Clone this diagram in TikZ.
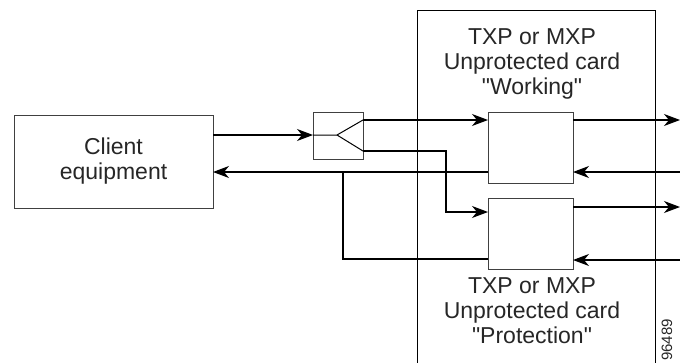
\documentclass[tikz,border=0pt]{standalone}
\usepackage{fontspec}
\setmainfont{Liberation Sans}[Ligatures=TeXOff]
\usetikzlibrary{arrows.meta}
\begin{document}
\begin{tikzpicture}[x=1pt,y=-1pt,
  wire/.style={line width=1.2pt,draw=black},
  arr/.style={wire,-{Stealth[length=16pt,width=12pt,inset=5pt]}},
  boxnode/.style={draw=black!75,line width=1pt,inner sep=0pt,anchor=center},
  lbl/.style={align=center,font=\fontsize{23}{25}\selectfont,text=black!85,inner sep=0pt}]
\useasboundingbox (0,0) rectangle (680,362);
% frame of the cards
\draw[wire,line width=1pt] (417,370) -- (417,10) -- (655,10) -- (655,370);
% nodes
\node[boxnode,minimum width=199pt,minimum height=93pt] (client) at (113.5,161.5) {};
\node[lbl] (clienttxt) at (113.5,161.5) {Client\\equipment};
\node[boxnode,minimum width=50pt,minimum height=47pt] (sp) at (338,135.5) {};
\node[boxnode,fill=white,minimum width=85pt,minimum height=71pt] (work) at (530.5,147.5) {};
\node[boxnode,fill=white,minimum width=85pt,minimum height=71pt] (prot) at (530.5,233.5) {};
\node[lbl,anchor=north] (worktxt) at (532,28) {TXP or MXP\\Unprotected card\\"Working"};
\node[lbl,anchor=north] (prottxt) at (532,277) {TXP or MXP\\Unprotected card\\"Protection"};
\node[rotate=90,font=\fontsize{15}{17}\selectfont,text=black!85,inner sep=0pt] (fig) at (667,340) {96489};
% splitter internals
\coordinate (spIn) at (313,135);
\coordinate (spMid) at (337,135);
\coordinate (spA) at (363,120);
\coordinate (spB) at (363,151);
\draw[wire,line width=1pt] (spIn) -- (spMid) -- (spA);
\draw[wire,line width=1pt] (spMid) -- (spB);
% coordinates
\coordinate (cOut) at (213,135);
\coordinate (cIn) at (213,172);
\coordinate (wIn) at (488,120);
\coordinate (wRet) at (488,172);
\coordinate (pIn) at (488,212);
\coordinate (pRet) at (488,259);
\coordinate (bendB) at (446,151);
\coordinate (loopX) at (343,259);
\coordinate (loopJ) at (343,172);
\coordinate (wOutR) at (573,120);
\coordinate (wInR) at (573,172);
\coordinate (pOutR) at (573,207);
\coordinate (pInR) at (573,260);
\coordinate (eA) at (680,120);
\coordinate (eB) at (681,172);
\coordinate (eC) at (680,207);
\coordinate (eD) at (681,260);
% connectors
\draw[arr] (cOut) -- (spIn);
\draw[arr] (spA) -- (wIn);
\draw[arr] (spB) -- (bendB) |- (pIn);
\draw[arr] (wRet) -- (cIn);
\draw[wire] (pRet) -- (loopX) -- (loopJ);
\draw[arr] (wOutR) -- (eA);
\draw[arr] (eB) -- (wInR);
\draw[arr] (pOutR) -- (eC);
\draw[arr] (eD) -- (pInR);
\end{tikzpicture}
\end{document}
